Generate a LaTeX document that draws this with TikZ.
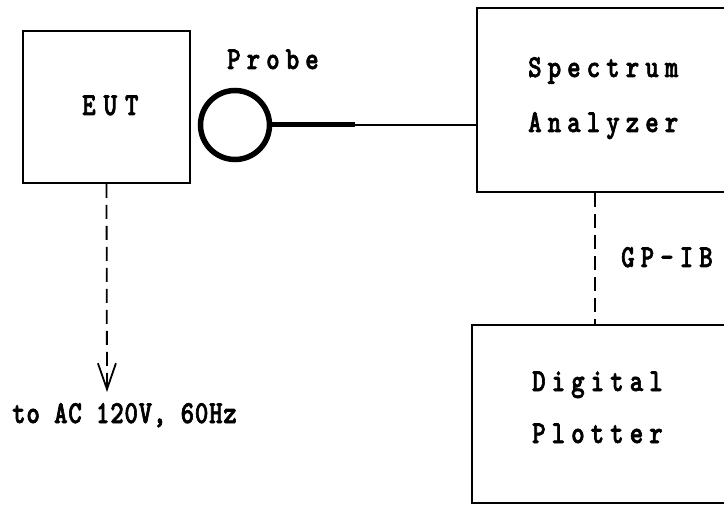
\documentclass[tikz,border=0pt]{standalone}
\usepackage{fontspec}
\usetikzlibrary{arrows.meta}
\newfontfamily\wideFont[LetterSpace=19,FakeBold=2,FakeStretch=0.8]{lmmonolt10-bold.otf}
\newfontfamily\euFont[LetterSpace=25,FakeBold=2,FakeStretch=0.8]{lmmonolt10-bold.otf}
\newfontfamily\narrowFont[LetterSpace=2.5,FakeBold=2,FakeStretch=0.8]{lmmonolt10-bold.otf}
\tikzset{
  unitbox/.style={draw, line width=1.6pt, rectangle, inner sep=0pt},
  lbl/.style={inner sep=0pt, anchor=base west, font=\wideFont\fontsize{32}{32}\selectfont},
  lbleut/.style={inner sep=0pt, anchor=base west, font=\euFont\fontsize{32}{32}\selectfont},
  lblsmall/.style={inner sep=0pt, anchor=base west, font=\narrowFont\fontsize{32}{32}\selectfont},
  dashline/.style={line width=1.8pt, dash pattern=on 14pt off 7pt},
  thinline/.style={line width=1.4pt},
  thickline/.style={line width=5pt},
}
\begin{document}
\begin{tikzpicture}[x=1pt,y=-1pt]
\useasboundingbox (0,0) rectangle (724,508);
% boxes
\node[unitbox, minimum width=167pt, minimum height=152pt] (EUT) at (106.5,107) {};
\node[unitbox, minimum width=263pt, minimum height=184pt] (SA) at (608.5,100) {};
\node[unitbox, minimum width=268pt, minimum height=178pt] (PL) at (606,414) {};
% probe
\node[draw, circle, line width=5.5pt, minimum size=69pt, inner sep=0pt] (probe) at (235,125) {};
\coordinate (pj) at (355,125);
\coordinate (gp) at (595,0);
\coordinate (ac) at (107,392);
% labels
\node[lbleut] (teut) at (82,115) {EUT};
\node[lbl] (tprobe) at (227,69) {Probe};
\node[lbl] (tsa1) at (528,77) {Spectrum};
\node[lbl] (tsa2) at (528,132) {Analyzer};
\node[lbl] (tpl1) at (532,391) {Digital};
\node[lbl] (tpl2) at (532,443) {Plotter};
\node[lbl] (tgp) at (621,267) {GP-IB};
\node[lblsmall] (tac) at (12,423) {to AC 120V, 60Hz};
% connectors
\draw[thickline] (probe.east) -- (pj);
\draw[thinline] (pj) -- (pj -| SA.west);
\draw[dashline] (gp |- SA.south) -- (gp |- PL.north);
\draw[dashline, -{Straight Barb[length=26pt,width=18pt,line width=1.8pt]}] (EUT.south) -- (ac);
\end{tikzpicture}
\end{document}
